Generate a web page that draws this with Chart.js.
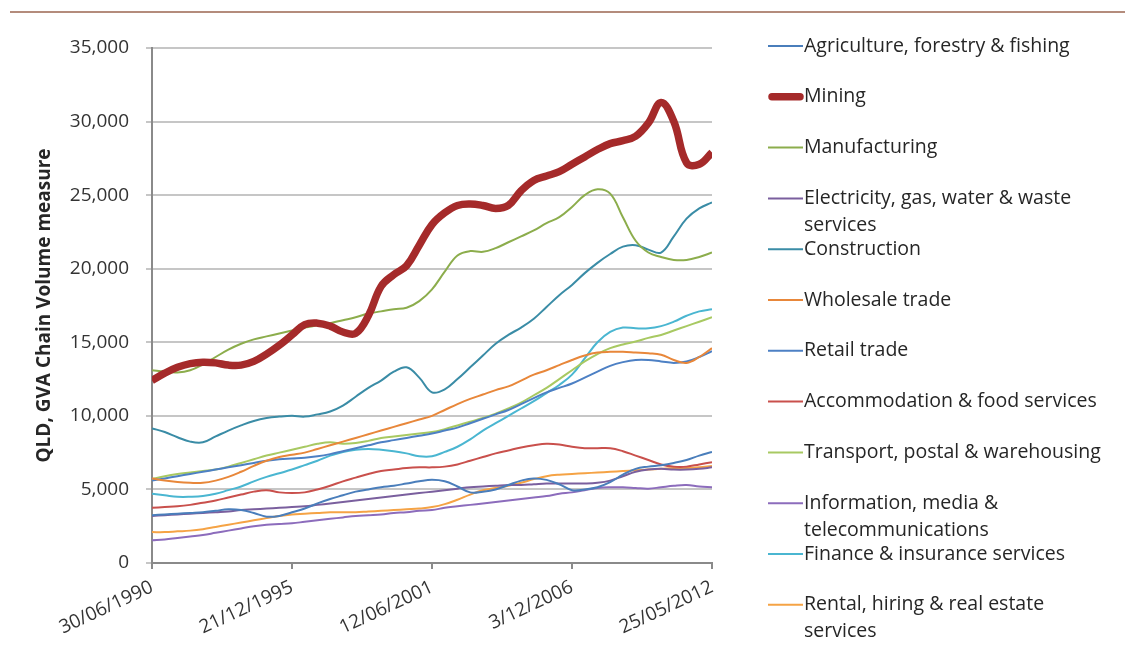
<!DOCTYPE html>
<html>
<head>
<meta charset="utf-8">
<script src="https://cdn.jsdelivr.net/npm/chart.js@4"></script>
<style>
  body { margin: 0; background: #fff; }
  #wrap { position: relative; width: 1135px; height: 649px; }
</style>
</head>
<body>
<div id="wrap"><canvas id="chartGva" width="1135" height="649"></canvas></div>
<script>
// QLD gross value added by industry, half-yearly from June 1990 to May 2012
const tickLabels = ["30/06/1990", "21/12/1995", "12/06/2001", "3/12/2006", "25/05/2012"];

const sectors = [
  "Agriculture, forestry & fishing",
  "Mining",
  "Manufacturing",
  ["Electricity, gas, water & waste", "services"],
  "Construction",
  "Wholesale trade",
  "Retail trade",
  "Accommodation & food services",
  "Transport, postal & warehousing",
  ["Information, media &", "telecommunications"],
  "Finance & insurance services",
  ["Rental, hiring & real estate", "services"],
];

const agriculture = [3250, 3300, 3350, 3400, 3450, 3550, 3650, 3600, 3400, 3150, 3200, 3450, 3700, 4050, 4350,
  4600, 4850, 5000, 5150, 5250, 5400, 5550, 5650, 5550, 5200, 4800, 4850, 5000, 5300, 5600,
  5750, 5650, 5350, 4950, 5000, 5150, 5500, 6000, 6400, 6550, 6650, 6800, 7000, 7300, 7550];
const mining = [12400, 12900, 13300, 13550, 13650, 13600, 13450, 13450, 13700, 14200, 14800, 15500, 16200, 16300, 16100,
  15700, 15600, 16800, 18800, 19600, 20200, 21600, 23000, 23800, 24300, 24400, 24300, 24100, 24300, 25300,
  26000, 26300, 26600, 27100, 27600, 28100, 28500, 28700, 29000, 29900, 31300, 30000, 27200, 27100, 27900];
const manufacturing = [13100, 13000, 12950, 13100, 13500, 14000, 14500, 14900, 15200, 15400, 15600, 15800, 16000, 16150, 16300,
  16500, 16700, 16950, 17100, 17250, 17350, 17800, 18600, 19800, 20900, 21200, 21150, 21400, 21800, 22200,
  22600, 23100, 23500, 24200, 25000, 25400, 25100, 23500, 21900, 21100, 20800, 20600, 20600, 20800, 21100];
const electricity = [3200, 3250, 3300, 3350, 3400, 3450, 3500, 3600, 3650, 3700, 3750, 3800, 3850, 3950, 4050,
  4150, 4250, 4350, 4450, 4550, 4650, 4750, 4850, 4950, 5050, 5150, 5200, 5250, 5300, 5300,
  5350, 5400, 5400, 5400, 5400, 5450, 5600, 5900, 6200, 6350, 6400, 6350, 6350, 6400, 6500];
const construction = [9150, 8900, 8550, 8250, 8200, 8600, 9000, 9350, 9650, 9850, 9950, 10000, 9950, 10100, 10300,
  10700, 11300, 11900, 12400, 13000, 13300, 12600, 11600, 11800, 12500, 13300, 14100, 14900, 15500, 16000,
  16600, 17400, 18200, 18900, 19700, 20400, 21000, 21500, 21600, 21300, 21100, 22200, 23400, 24100, 24500];
const wholesale = [5750, 5600, 5500, 5450, 5450, 5600, 5850, 6200, 6600, 6950, 7200, 7350, 7500, 7750, 8000,
  8250, 8500, 8750, 9000, 9250, 9500, 9750, 10000, 10400, 10800, 11150, 11450, 11750, 12000, 12400,
  12800, 13100, 13450, 13800, 14100, 14300, 14350, 14350, 14300, 14250, 14150, 13800, 13600, 14000, 14600];
const retail = [5600, 5750, 5900, 6050, 6200, 6350, 6500, 6650, 6800, 6950, 7050, 7100, 7150, 7250, 7400,
  7600, 7800, 8000, 8200, 8350, 8500, 8650, 8800, 9000, 9200, 9500, 9800, 10100, 10400, 10800,
  11200, 11600, 11900, 12200, 12600, 13000, 13400, 13650, 13800, 13800, 13700, 13600, 13700, 14000, 14400];
const accommodation = [3750, 3800, 3850, 3950, 4100, 4250, 4450, 4650, 4850, 4950, 4800, 4750, 4800, 5000, 5250,
  5550, 5800, 6050, 6250, 6350, 6450, 6500, 6500, 6550, 6700, 6950, 7200, 7450, 7650, 7850,
  8000, 8100, 8050, 7900, 7800, 7800, 7800, 7600, 7300, 7000, 6700, 6550, 6550, 6700, 6850];
const transport = [5700, 5900, 6050, 6150, 6250, 6350, 6550, 6800, 7050, 7300, 7500, 7700, 7900, 8100, 8200,
  8100, 8150, 8300, 8500, 8600, 8700, 8800, 8900, 9100, 9350, 9600, 9850, 10150, 10500, 10900,
  11400, 11900, 12500, 13100, 13700, 14200, 14600, 14850, 15050, 15300, 15500, 15800, 16100, 16400, 16700];
const information = [1550, 1600, 1700, 1800, 1900, 2050, 2200, 2350, 2500, 2600, 2650, 2700, 2800, 2900, 3000,
  3100, 3200, 3250, 3300, 3400, 3450, 3550, 3600, 3750, 3850, 3950, 4050, 4150, 4250, 4350,
  4450, 4550, 4700, 4800, 4950, 5100, 5150, 5150, 5100, 5050, 5150, 5250, 5300, 5200, 5150];
const finance = [4700, 4600, 4500, 4500, 4550, 4700, 4950, 5200, 5550, 5850, 6100, 6350, 6650, 6950, 7300,
  7550, 7700, 7750, 7700, 7600, 7450, 7250, 7250, 7550, 7900, 8400, 9000, 9500, 10000, 10500,
  11000, 11550, 12100, 12800, 13900, 15000, 15700, 16000, 15950, 15950, 16100, 16400, 16800, 17100, 17250];
const rental = [2100, 2100, 2150, 2200, 2300, 2450, 2600, 2750, 2900, 3050, 3200, 3300, 3350, 3400, 3450,
  3450, 3450, 3500, 3550, 3600, 3650, 3700, 3800, 4000, 4300, 4650, 4950, 5100, 5250, 5450,
  5700, 5900, 6000, 6050, 6100, 6150, 6200, 6250, 6300, 6350, 6400, 6450, 6450, 6500, 6600];

const series = [agriculture, mining, manufacturing, electricity, construction, wholesale,
  retail, accommodation, transport, information, finance, rental];
const colors = ["#4a7ebb", "#a52a2a", "#8cad4c", "#7a5f9e", "#3a8ca6", "#e8873a",
  "#4d80c4", "#c9504c", "#a8c962", "#8c6cbc", "#4ab6d1", "#f5a345"];

const ticksEvery = 11;
const fontFamily = "'Open Sans', sans-serif";

function frameLine() {
  return {
    id: "frameLine",
    beforeDraw: (chart) => {
      const { ctx } = chart;
      ctx.save();
      ctx.fillStyle = "#ffffff";
      ctx.fillRect(0, 0, chart.width, chart.height);
      ctx.strokeStyle = "#b48c7c";
      ctx.lineWidth = 2;
      ctx.beginPath();
      ctx.moveTo(10, 12);
      ctx.lineTo(1125, 12);
      ctx.stroke();
      ctx.restore();
    },
  };
}

// legend drawn down the right side, one row per industry
function sideLegend() {
  return {
    id: "sideLegend",
    afterDraw: (chart) => {
      const { ctx } = chart;
      ctx.save();
      ctx.font = "19.5px " + fontFamily;
      ctx.textBaseline = "middle";
      chart.data.datasets.forEach((ds, i) => {
        const y = 46 + i * 50.8;
        ctx.strokeStyle = ds.borderColor;
        ctx.lineWidth = ds.borderWidth;
        ctx.lineCap = ds.borderWidth > 3 ? "round" : "butt";
        ctx.beginPath();
        ctx.moveTo(ds.borderWidth > 3 ? 772 : 768, y);
        ctx.lineTo(ds.borderWidth > 3 ? 800 : 803, y);
        ctx.stroke();
        ctx.fillStyle = "#262626";
        [].concat(sectors[i]).forEach((line, k) => {
          ctx.fillText(line, 804, y + k * 27);
        });
      });
      ctx.restore();
    },
  };
}

const datasets = series.map((values, i) => ({
  label: [].concat(sectors[i]).join(" "),
  data: values.map((v, k) => ({ x: k, y: v })),
  borderColor: colors[i],
  backgroundColor: colors[i],
  borderWidth: i === 1 ? 7.5 : 2,
  pointRadius: 0,
  tension: 0.4,
  fill: false,
}));
// mining drawn on top of the rest
datasets.forEach((ds, i) => (ds.order = i === 1 ? 0 : 1));

const ctx = document.getElementById("chartGva");
new Chart(ctx, {
  type: "line",
  data: { datasets: datasets },
  options: {
    responsive: false,
    animation: false,
    layout: { padding: { top: 48, right: 423, bottom: 0, left: 0 } },
    plugins: {
      legend: { display: false },
      tooltip: { enabled: false },
    },
    scales: {
      x: {
        type: "linear",
        min: 0,
        max: (tickLabels.length - 1) * ticksEvery,
        afterBuildTicks: (scale) => {
          scale.ticks = tickLabels.map((_, i) => ({ value: i * ticksEvery }));
        },
        afterFit: (scale) => {
          scale.height = 86;
        },
        grid: {
          drawOnChartArea: false,
          drawTicks: true,
          tickLength: 6,
          color: "#8a8a8a",
          lineWidth: 2,
        },
        border: { color: "#8a8a8a", width: 2 },
        ticks: {
          autoSkip: false,
          minRotation: 25,
          maxRotation: 25,
          padding: 7,
          color: "#333333",
          font: { family: fontFamily, size: 19 },
          callback: (value) => tickLabels[Math.round(value / ticksEvery)],
        },
      },
      y: {
        min: 0,
        max: 35000,
        afterFit: (scale) => {
          scale.width = 152;
        },
        grid: {
          color: "#c6c6c6",
          lineWidth: 2,
          drawTicks: true,
          tickLength: 6,
        },
        border: { color: "#8a8a8a", width: 2 },
        ticks: {
          stepSize: 5000,
          padding: 17,
          color: "#333333",
          font: { family: fontFamily, size: 19 },
          callback: (value) => value.toLocaleString("en-US"),
        },
        title: {
          display: true,
          text: "QLD, GVA Chain Volume measure",
          color: "#262626",
          font: { family: fontFamily, size: 19, weight: "bold" },
          padding: { top: 33, bottom: 4 },
        },
      },
    },
  },
  plugins: [frameLine(), sideLegend()],
});
</script>
</body>
</html>
